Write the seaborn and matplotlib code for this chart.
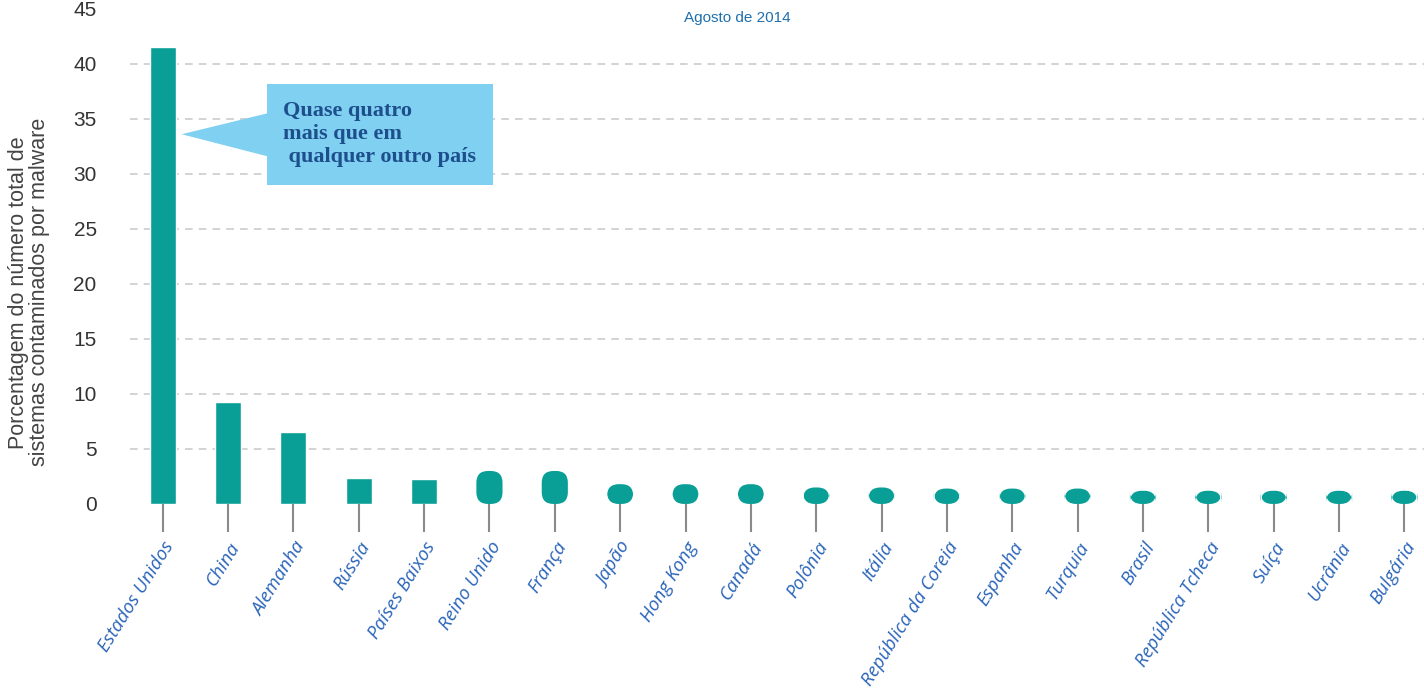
import matplotlib
matplotlib.use('Agg')
import matplotlib.pyplot as plt
import seaborn as sns
import pandas as pd
from matplotlib.patches import FancyBboxPatch, Polygon

# data
countries = ['Estados Unidos', 'China', 'Alemanha', 'Rússia', 'Países Baixos',
             'Reino Unido', 'França', 'Japão', 'Hong Kong', 'Canadá',
             'Polônia', 'Itália', 'República da Coreia', 'Espanha', 'Turquia',
             'Brasil', 'República Tcheca', 'Suíça', 'Ucrânia', 'Bulgária']
share = [41.5, 9.3, 6.5, 2.4, 2.3,
         3.0, 3.0, 1.8, 1.8, 1.8,
         1.5, 1.5, 1.4, 1.4, 1.4,
         1.2, 1.2, 1.2, 1.2, 1.2]
rounded = [False] * 5 + [True] * 15
yticks = [0, 5, 10, 15, 20, 25, 30, 35, 40, 45]

df = pd.DataFrame({'pais': countries, 'pct': share})

sns.set_style('white')
plt.rcParams['font.family'] = ['Liberation Sans', 'DejaVu Sans']

teal = '#0a9f96'
fig = plt.figure(figsize=(14.24, 6.96), dpi=100)
ax = fig.add_axes([130 / 1424, 0.2759, 1 - 130 / 1424, 1 - 0.2759])

sns.barplot(data=df, x='pais', y='pct', order=countries, color=teal,
            saturation=1, width=0.4, ax=ax)

ax.set_xlim(-0.5, 19.3)
ax.set_ylim(0, 45.8)

# small values are drawn as rounded blobs in the original
px_x = 1294 / 19.8
px_y = 504 / 45.8
for patch, rnd in zip(list(ax.patches), rounded):
    if not rnd:
        continue
    x, w, h = patch.get_x(), patch.get_width(), patch.get_height()
    patch.remove()
    ax.add_patch(FancyBboxPatch((x, 0), w, h,
                                boxstyle='round,pad=0,rounding_size=%f' % (w * 0.45),
                                mutation_aspect=px_x / px_y,
                                facecolor=teal, edgecolor='none'))

# dashed grid (5..40)
for v in yticks[1:-1]:
    ax.axhline(v, color='#c8c8c8', lw=1.1, ls=(0, (5, 4)), zorder=0)

for s in ax.spines.values():
    s.set_visible(False)

ax.set_yticks(yticks)
ax.tick_params(axis='y', length=0, pad=24, labelsize=15, labelcolor='#333333')
ax.tick_params(axis='x', length=20, width=1.5, color='#8a8a8a', pad=5, bottom=True)
ax.set_xticks(range(len(countries)))
ax.set_xticklabels(countries, rotation=58, ha='right', rotation_mode='anchor',
                   fontsize=13.5, color='#2a64b8', style='italic',
                   family=['Open Sans', 'DejaVu Sans'])
ax.set_xlabel('')
ax.set_ylabel('Porcentagem do número total de\nsistemas contaminados por malware',
              fontsize=15.5, color='#444444', linespacing=1.0)
ax.yaxis.set_label_coords(-0.062, 0.42)

fig.text(737 / 1424, 1 - 18 / 696, 'Agosto de 2014', ha='center', va='center',
         fontsize=11, color='#1f6fad')

# callout box
box_color = '#80d0f2'
ax.add_patch(Polygon([(0.29, 33.6), (1.6, 35.5), (1.6, 31.6)], closed=True,
                     facecolor=box_color, edgecolor='none', zorder=3))
ax.add_patch(plt.Rectangle((1.59, 29.0), 3.46, 9.2, facecolor=box_color,
                           edgecolor='none', zorder=3))
ax.text(1.84, 33.6, 'Quase quatro\nmais que em\n qualquer outro país',
        ha='left', va='center', fontsize=16, fontweight='bold',
        color='#1d4f8c', family=['Liberation Serif', 'DejaVu Serif'],
        linespacing=1.2, zorder=4)

plt.savefig('out.png', dpi=100)
